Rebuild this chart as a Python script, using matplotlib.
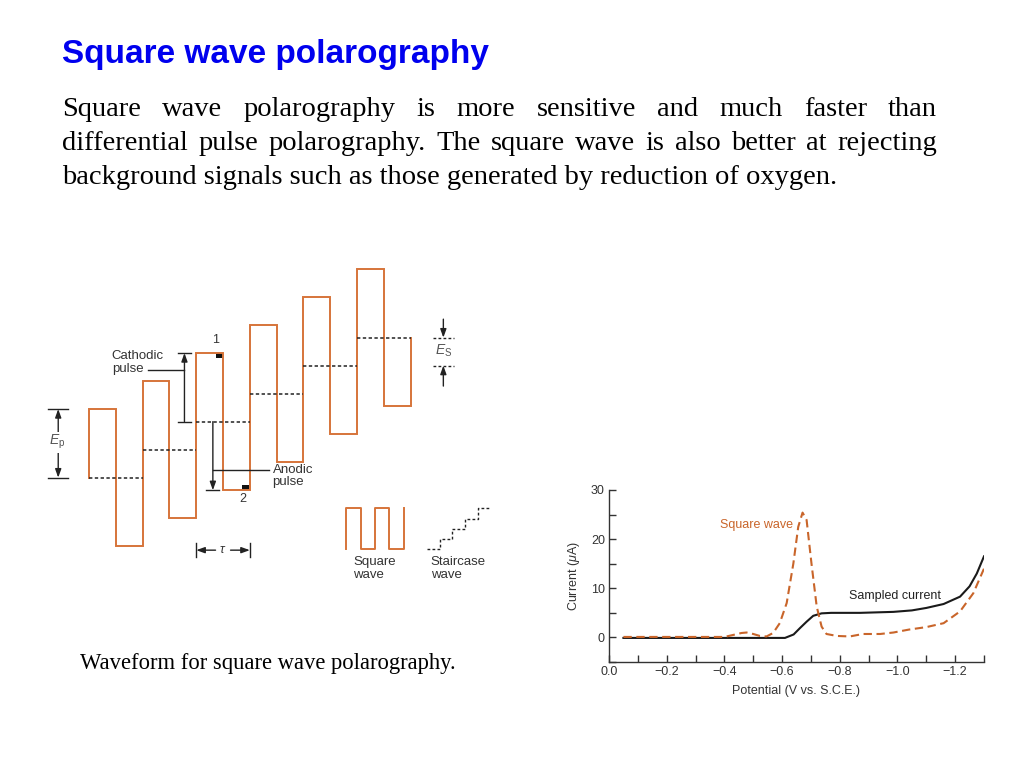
import matplotlib
matplotlib.use('Agg')
import matplotlib.pyplot as plt
from matplotlib.patches import Rectangle
from matplotlib.ticker import MultipleLocator, FuncFormatter

plt.rcParams['mathtext.fontset'] = 'custom'
plt.rcParams['mathtext.it'] = 'Liberation Sans:italic'
plt.rcParams['mathtext.rm'] = 'Liberation Sans'

W, H = 1024, 768
ORANGE = '#d6743a'
DARK = '#333333'

# slide text
title = "Square wave polarography"
body_lines = [
    "Square wave polarography is more sensitive and much faster than",
    "differential pulse polarography. The square wave is also better at rejecting",
    "background signals such as those generated by reduction of oxygen.",
]
caption = "Waveform for square wave polarography."

# waveform: staircase levels (in units of Es) and pulse height (in units of Es)
stair_levels = [0, 1, 2, 3, 4, 5]
pulse_amp = 2.45

# polarogram data (potential in V vs S.C.E., current in uA)
sampled_E = [-0.05, -0.2, -0.4, -0.61, -0.64, -0.662, -0.685, -0.708, -0.737,
             -0.77, -0.87, -0.986, -1.05, -1.10, -1.16, -1.217, -1.25, -1.275, -1.30]
sampled_I = [-0.1, -0.1, -0.1, -0.1, 0.6, 1.9, 3.2, 4.4, 4.9,
             5.0, 5.0, 5.2, 5.5, 6.0, 6.8, 8.3, 10.4, 13.0, 16.5]
sw_E = [-0.05, -0.2, -0.4, -0.43, -0.459, -0.477, -0.5, -0.523, -0.546, -0.569,
        -0.592, -0.616, -0.639, -0.656, -0.671, -0.685, -0.702, -0.72, -0.737,
        -0.754, -0.79, -0.835, -0.88, -0.94, -0.986, -1.04, -1.10, -1.16,
        -1.217, -1.263, -1.30]
sw_I = [0.1, 0.1, 0.1, 0.5, 0.9, 1.0, 0.7, 0.3, 0.2, 0.9,
        2.9, 7.0, 15.0, 22.5, 25.4, 23.9, 15.0, 6.3, 2.2,
        0.7, 0.3, 0.2, 0.7, 0.7, 1.0, 1.6, 2.1, 2.9,
        5.3, 9.0, 14.0]

fig = plt.figure(figsize=(W / 100, H / 100), dpi=100)
renderer = fig.canvas.get_renderer()

# title and body
fig.text(62 / W, 1 - 63 / H, title, fontsize=24, fontweight='bold',
         color='#0000ee', family='Liberation Sans', va='baseline')


def justify(line, y_px, x0, x1, **kw):
    words = line.split()
    texts = [fig.text(0, 1 - y_px / H, w, va='baseline', **kw) for w in words]
    widths = [t.get_window_extent(renderer).width for t in texts]
    gap = (x1 - x0 - sum(widths)) / (len(words) - 1)
    x = x0
    for t, w in zip(texts, widths):
        t.set_x(x / W)
        x += w + gap


body_kw = dict(fontsize=20.5, family='Liberation Serif', color='black')
justify(body_lines[0], 116, 62, 937, **body_kw)
justify(body_lines[1], 150, 62, 937, **body_kw)
fig.text(62 / W, 1 - 184 / H, body_lines[2], va='baseline', **body_kw)

fig.text(80 / W, 1 - 669 / H, caption, fontsize=16.3, family='Liberation Serif',
         va='baseline')

# ---------------- waveform diagram ----------------
ax = fig.add_axes([40 / W, 1 - 600 / H, 480 / W, 350 / H])
ax.set_xlim(-1.83, 16.08)
ax.set_ylim(-4.37, 8.13)
ax.axis('off')

wx, wy = [0], [stair_levels[0]]
for k, lev in enumerate(stair_levels):
    wx += [2 * k, 2 * k + 1, 2 * k + 1, 2 * k + 2]
    wy += [lev + pulse_amp, lev + pulse_amp, lev - pulse_amp, lev - pulse_amp]
wx.append(2 * len(stair_levels))
wy.append(stair_levels[-1])
ax.plot(wx, wy, color=ORANGE, lw=1.4, solid_joinstyle='miter')

for k, lev in enumerate(stair_levels):
    ax.plot([2 * k, 2 * k + 2], [lev, lev], color='#222222', lw=1.1,
            ls=(0, (2.2, 1.6)))

lk = dict(color='#222222', lw=1.0)
arr = dict(arrowstyle='-|>,head_length=0.5,head_width=0.18', color='#222222',
           lw=1.0, shrinkA=0, shrinkB=0)
txt = dict(fontsize=9.5, color=DARK, ha='left', va='center', linespacing=1.05,
           family='Liberation Sans')

# sample points 1 and 2
top2 = stair_levels[2] + pulse_amp
bot2 = stair_levels[2] - pulse_amp
ax.add_patch(Rectangle((4.72, top2 - 0.19), 0.28, 0.19, color='#111111', lw=0))
ax.add_patch(Rectangle((5.70, bot2), 0.28, 0.18, color='#111111', lw=0))
ax.text(4.72, top2 + 0.47, '1', fontsize=9, color=DARK, ha='center', va='center',
        family='Liberation Sans')
ax.text(5.72, bot2 - 0.3, '2', fontsize=9, color=DARK, ha='center', va='center',
        family='Liberation Sans')

# cathodic pulse bracket
cx = 3.56
ax.annotate('', xy=(cx, top2), xytext=(cx, stair_levels[2]), arrowprops=arr)
ax.plot([3.33, 3.80], [top2, top2], **lk)
ax.plot([3.33, 3.80], [stair_levels[2], stair_levels[2]], **lk)
ax.plot([2.2, cx], [3.85, 3.85], **lk)
ax.text(0.85, 4.12, 'Cathodic\npulse', **txt)

# anodic pulse bracket
axx = 4.62
ax.annotate('', xy=(axx, bot2), xytext=(axx, stair_levels[2]), arrowprops=arr)
ax.plot([4.35, 4.86], [bot2, bot2], **lk)
ax.plot([axx, 6.73], [0.27, 0.27], **lk)
ax.text(6.85, 0.06, 'Anodic\npulse', **txt)

# Ep bracket
ex = -1.15
ax.annotate('', xy=(ex, pulse_amp), xytext=(ex, pulse_amp / 2), arrowprops=arr)
ax.annotate('', xy=(ex, stair_levels[0]), xytext=(ex, pulse_amp / 2), arrowprops=arr)
ax.plot([-1.52, -0.78], [pulse_amp, pulse_amp], **lk)
ax.plot([-1.52, -0.78], [stair_levels[0], stair_levels[0]], **lk)
ax.text(ex - 0.05, 1.27, r'$E_\mathrm{p}$', fontsize=10, color='#555555', ha='center',
        va='center', bbox=dict(facecolor='white', edgecolor='none', pad=1))

# Es marker
sx = 13.22
for lev in stair_levels[-2:]:
    ax.plot([12.85, 13.6], [lev, lev], color='#222222', lw=1.0, ls=(0, (2.0, 1.6)))
ax.annotate('', xy=(sx, stair_levels[-1]), xytext=(sx, 5.66), arrowprops=arr)
ax.annotate('', xy=(sx, stair_levels[-2]), xytext=(sx, 3.27), arrowprops=arr)
ax.text(sx, 4.52, r'$E_\mathrm{S}$', fontsize=10, color='#555555', ha='center',
        va='center')

# tau (one period)
ty = -2.59
ax.annotate('', xy=(4.0, ty), xytext=(4.72, ty), arrowprops=arr)
ax.annotate('', xy=(6.0, ty), xytext=(5.28, ty), arrowprops=arr)
ax.plot([4.0, 4.0], [ty - 0.24, ty + 0.24], **lk)
ax.plot([6.0, 6.0], [ty - 0.24, ty + 0.24], **lk)
ax.text(5.0, ty + 0.03, r'$\tau$', fontsize=9, color=DARK, ha='center', va='center')

# small legend icons
lx0, lw_, lo, hi = 9.59, 0.54, -2.56, -1.07
sqx, sqy = [lx0], [lo]
for i in range(4):
    level = hi if i % 2 == 0 else lo
    sqx += [lx0 + i * lw_, lx0 + (i + 1) * lw_]
    sqy += [level, level]
    sqx.append(lx0 + (i + 1) * lw_)
    sqy.append(lo if i % 2 == 0 else hi)
ax.plot(sqx, sqy, color=ORANGE, lw=1.4)

stx0, stw, sth = 12.6, 0.48, 0.365
stx, sty = [], []
for i in range(5):
    stx += [stx0 + i * stw, stx0 + (i + 1) * stw]
    sty += [lo + i * sth, lo + i * sth]
    if i < 4:
        stx.append(stx0 + (i + 1) * stw)
        sty.append(lo + (i + 1) * sth)
ax.plot(stx, sty, color='#222222', lw=1.0, ls=(0, (2.0, 1.6)))

ax.text(9.86, -3.24, 'Square\nwave', **txt)
ax.text(12.75, -3.24, 'Staircase\nwave', **txt)

# ---------------- polarogram ----------------
ax2 = fig.add_axes([609 / W, 1 - 662 / H, 375 / W, 172 / H])
ax2.plot(sampled_E, sampled_I, color='#1a1a1a', lw=1.5)
ax2.plot(sw_E, sw_I, color='#c9652a', lw=1.5, ls=(0, (4, 2.2)))
ax2.set_xlim(0, -1.3)
ax2.set_ylim(-5, 30)
for s in ['top', 'right']:
    ax2.spines[s].set_visible(False)
for s in ['left', 'bottom']:
    ax2.spines[s].set_color('#333333')
    ax2.spines[s].set_linewidth(1.0)
ax2.xaxis.set_major_locator(MultipleLocator(0.2))
ax2.xaxis.set_minor_locator(MultipleLocator(0.1))
ax2.yaxis.set_major_locator(MultipleLocator(10))
ax2.yaxis.set_minor_locator(MultipleLocator(5))
ax2.xaxis.set_major_formatter(FuncFormatter(lambda v, p: f'{v:.1f}'.replace('-', '\u2212')))
ax2.tick_params(which='both', direction='in', length=5, width=1.0, color='#333333',
                labelsize=9, labelcolor='#333333', pad=3)
ax2.set_xlabel('Potential (V vs. S.C.E.)', fontsize=9, color='#333333', labelpad=5)
ax2.set_ylabel(r'Current ($\mu$A)', fontsize=9, color='#333333', labelpad=6)
for t in ax2.get_xticklabels() + ax2.get_yticklabels():
    t.set_family('Liberation Sans')
ax2.xaxis.label.set_family('Liberation Sans')
ax2.yaxis.label.set_family('Liberation Sans')
ax2.set_facecolor('none')

ax2.text(-0.51, 22.8, 'Square wave', fontsize=9, color='#c9652a', ha='center',
         va='center', family='Liberation Sans')
ax2.text(-0.99, 8.5, 'Sampled current', fontsize=9, color='#222222', ha='center',
         va='center', family='Liberation Sans')

fig.savefig('out.png', dpi=100)
